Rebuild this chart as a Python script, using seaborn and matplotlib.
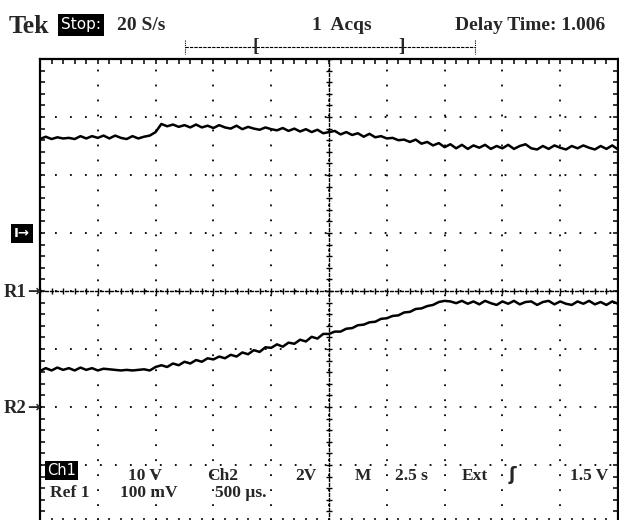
import numpy as np
import pandas as pd
import matplotlib
matplotlib.use("Agg")
import matplotlib.pyplot as plt
import seaborn as sns
from matplotlib.lines import Line2D
from matplotlib.ticker import MultipleLocator

# ---------------- data (read from the screen, in graticule divisions) ----------------
# horizontal: 2.5 s/div, 10 divisions -> 0..25 s, one sample every 0.25 s
time_s = np.round(np.arange(0, 101) * 0.25, 3)

ch1_div = [2.62, 2.66, 2.62, 2.65, 2.63, 2.64, 2.62, 2.67, 2.63, 2.67,
           2.64, 2.68, 2.63, 2.68, 2.64, 2.62, 2.67, 2.63, 2.66, 2.68,
           2.74, 2.88, 2.84, 2.87, 2.83, 2.86, 2.82, 2.87, 2.82, 2.85,
           2.81, 2.86, 2.82, 2.80, 2.85, 2.79, 2.83, 2.80, 2.78, 2.82,
           2.79, 2.77, 2.81, 2.76, 2.80, 2.75, 2.79, 2.74, 2.78, 2.72,
           2.74, 2.76, 2.70, 2.74, 2.69, 2.72, 2.66, 2.71, 2.65, 2.67,
           2.63, 2.64, 2.60, 2.61, 2.57, 2.61, 2.54, 2.57, 2.51, 2.55,
           2.48, 2.53, 2.46, 2.52, 2.45, 2.51, 2.47, 2.52, 2.45, 2.50,
           2.46, 2.52, 2.45, 2.50, 2.53, 2.46, 2.44, 2.50, 2.45, 2.51,
           2.47, 2.44, 2.50, 2.46, 2.51, 2.47, 2.44, 2.50, 2.45, 2.51,
           2.44]

ref1_div = [-1.38, -1.33, -1.37, -1.32, -1.36, -1.33, -1.37, -1.32, -1.36, -1.33,
            -1.37, -1.34, -1.35, -1.36, -1.37, -1.36, -1.37, -1.36, -1.35, -1.37,
            -1.31, -1.28, -1.31, -1.25, -1.28, -1.22, -1.25, -1.19, -1.22, -1.16,
            -1.18, -1.13, -1.16, -1.10, -1.13, -1.06, -1.09, -1.02, -1.05, -0.97,
            -0.98, -0.92, -0.96, -0.89, -0.91, -0.84, -0.87, -0.79, -0.82, -0.74,
            -0.74, -0.70, -0.70, -0.65, -0.64, -0.59, -0.58, -0.54, -0.53, -0.48,
            -0.47, -0.43, -0.42, -0.37, -0.36, -0.31, -0.30, -0.26, -0.24, -0.19,
            -0.17, -0.18, -0.21, -0.17, -0.22, -0.18, -0.23, -0.17, -0.21, -0.24,
            -0.18, -0.22, -0.17, -0.23, -0.19, -0.18, -0.24, -0.19, -0.17, -0.23,
            -0.18, -0.22, -0.24, -0.18, -0.22, -0.17, -0.23, -0.19, -0.24, -0.18,
            -0.22]

header_labels = ["20 S/s", "1  Acqs", "Delay Time: 1.006"]
row1_labels = ["10 V", "Ch2", "2V", "M", "2.5 s", "Ext", "1.5 V"]
row2_labels = ["Ref 1", "100 mV", "500 \u00b5s."]
marker_labels = ["R1", "R2"]

# ---------------- style ----------------
sns.set_style("white")
plt.rcParams["font.family"] = ["Liberation Serif", "DejaVu Serif"]
SERIF = ["Liberation Serif", "DejaVu Serif"]

W, H = 619, 520
def fx(px):
    return px / W
def fy(py):
    return 1 - py / H

fig = plt.figure(figsize=(W / 100, H / 100), dpi=100, facecolor="white")
rect = [40 / W, -3 / H, 578 / W, 464 / H]
ax = fig.add_axes(rect)
ax.set_xlim(0, 25)
ax.set_ylim(-4, 4)

n = len(time_s)
df = pd.DataFrame({
    "t": np.concatenate([time_s, time_s]),
    "v": np.array(ch1_div + ref1_div),
    "trace": ["Ch1"] * n + ["Ref1"] * n,
})
sns.lineplot(data=df, x="t", y="v", hue="trace",
             palette={"Ch1": "black", "Ref1": "black"},
             estimator=None, sort=False, linewidth=1.8, legend=False, ax=ax)
ax.set_xlabel("")
ax.set_ylabel("")

ax.xaxis.set_major_locator(MultipleLocator(2.5))
ax.xaxis.set_minor_locator(MultipleLocator(0.5))
ax.yaxis.set_major_locator(MultipleLocator(1))
ax.yaxis.set_minor_locator(MultipleLocator(0.2))
ax.tick_params(which="both", direction="in", top=True, bottom=True, left=True,
               right=True, length=3.5, width=1.1, color="black",
               labelbottom=False, labelleft=False)
for s in ax.spines.values():
    s.set_visible(True)
    s.set_color("black")
    s.set_linewidth(1.6)
ax.grid(True, which="major", color="black", linestyle=(0, (1.0, 7.3)), linewidth=1.3)
ax.set_zorder(2)
ax.patch.set_visible(False)

# centre cross with tick marks
ax2 = fig.add_axes(rect, label="centre")
ax2.set_xlim(0, 25)
ax2.set_ylim(-4, 4)
ax2.patch.set_visible(False)
ax2.spines["left"].set_position(("data", 12.5))
ax2.spines["bottom"].set_position(("data", 0))
ax2.spines["top"].set_visible(False)
ax2.spines["right"].set_visible(False)
for s in ["left", "bottom"]:
    ax2.spines[s].set_visible(True)
    ax2.spines[s].set_linestyle((0, (2.0, 1.6)))
    ax2.spines[s].set_linewidth(1.0)
    ax2.spines[s].set_color("black")
ax2.xaxis.set_major_locator(MultipleLocator(2.5))
ax2.xaxis.set_minor_locator(MultipleLocator(0.5))
ax2.yaxis.set_major_locator(MultipleLocator(1))
ax2.yaxis.set_minor_locator(MultipleLocator(0.2))
ax2.tick_params(which="both", direction="inout", bottom=True, left=True, top=False,
                right=False, length=5, width=1.0, color="black",
                labelbottom=False, labelleft=False)
ax2.set_zorder(1)

# ---------------- header ----------------
fig.text(fx(9), fy(33), "Tek", fontsize=18.5, fontweight="bold", family=SERIF,
         va="baseline", ha="left")
fig.text(fx(61), fy(29.5), "Stop:", fontsize=11, color="white", family="DejaVu Sans",
         va="baseline", ha="left",
         bbox=dict(boxstyle="square,pad=0.2", fc="black", ec="none"))
for lbl, px in zip(header_labels, [117, 312, 455]):
    fig.text(fx(px), fy(29.5), lbl, fontsize=14, fontweight="bold", family=SERIF,
             va="baseline", ha="left")

# record-position bracket
fig.add_artist(Line2D([fx(185), fx(475)], [fy(47), fy(47)], transform=fig.transFigure,
                      color="black", lw=0.8, ls=(0, (3, 1))))
for px in [185, 475]:
    fig.add_artist(Line2D([fx(px), fx(px)], [fy(40), fy(54)], transform=fig.transFigure,
                          color="black", lw=0.8, ls=(0, (1, 1))))
fig.text(fx(253), fy(47), "[", fontsize=14, fontweight="bold", family=SERIF,
         va="center", ha="left")
fig.text(fx(398), fy(47), "]", fontsize=14, fontweight="bold", family=SERIF,
         va="center", ha="left")

# ---------------- left markers ----------------
fig.text(fx(14), fy(233.5), "I\u2192", fontsize=9.5, color="white", fontweight="bold",
         family="DejaVu Sans", va="center", ha="left",
         bbox=dict(boxstyle="square,pad=0.2", fc="black", ec="none"))
for lbl, py in zip(marker_labels, [297, 413]):
    fig.text(fx(4), fy(py), lbl, fontsize=13.5, fontweight="bold", family=SERIF,
             va="baseline", ha="left")
    fig.text(fx(27), fy(py - 6), "\u2192", fontsize=11, fontweight="bold",
             family="DejaVu Sans", va="center", ha="left")

# ---------------- bottom readout ----------------
fig.text(fx(47), fy(470.5), "Ch1", fontsize=10.5, color="white", family="DejaVu Sans",
         va="center", ha="left",
         bbox=dict(boxstyle="square,pad=0.15", fc="black", ec="none"))
for lbl, px in zip(row1_labels, [128, 207, 295, 355, 395, 462, 570]):
    fig.text(fx(px), fy(480), lbl, fontsize=12.5, fontweight="bold", family=SERIF,
             va="baseline", ha="left")
fig.text(fx(509), fy(480), "\u0283", fontsize=13, fontweight="bold",
         family="DejaVu Sans", va="baseline", ha="left")
for lbl, px in zip(row2_labels, [50, 120, 215]):
    fig.text(fx(px), fy(497), lbl, fontsize=12.5, fontweight="bold", family=SERIF,
             va="baseline", ha="left")

fig.savefig("out.png", dpi=100, facecolor="white")
